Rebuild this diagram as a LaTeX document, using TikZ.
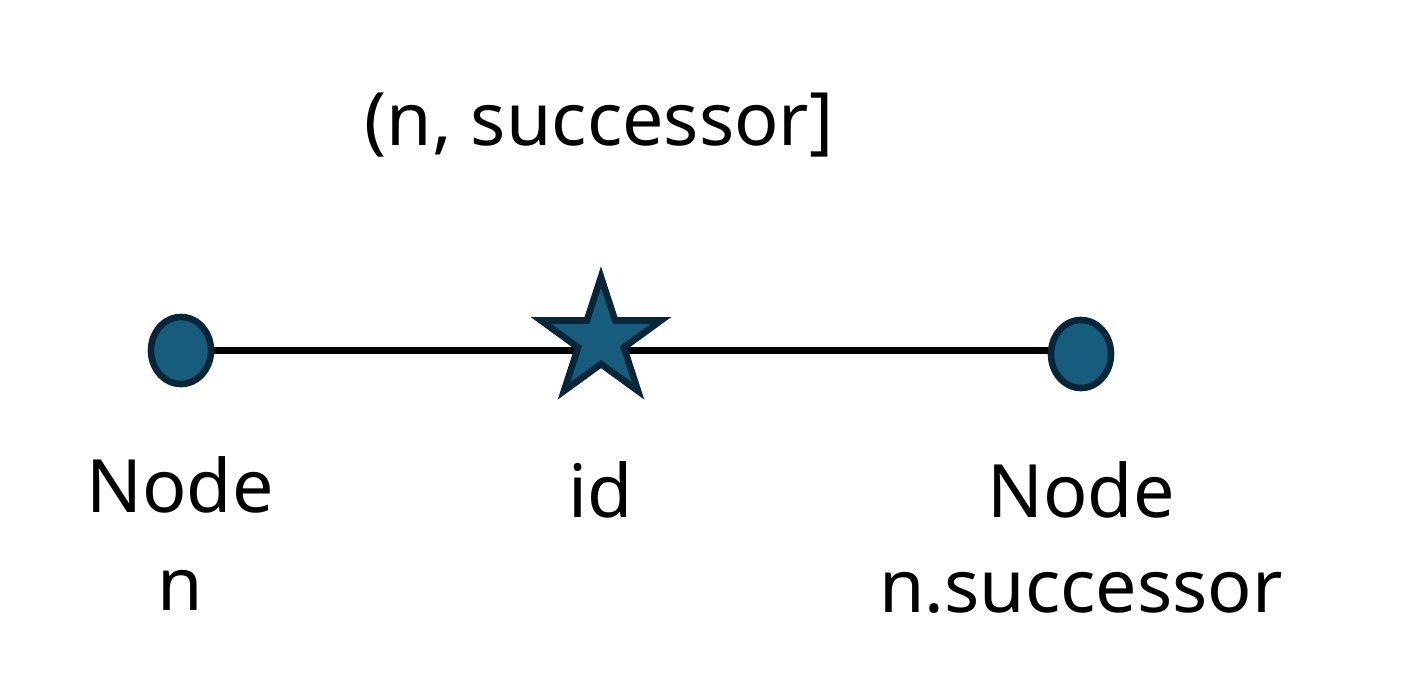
\documentclass[tikz,border=0pt]{standalone}
\usepackage{fontspec}
\setmainfont{Noto Sans}
\usetikzlibrary{shapes.geometric}
\definecolor{dotfill}{HTML}{175C7C}
\definecolor{dotline}{HTML}{07263A}
\begin{document}
\begin{tikzpicture}[x=0.5pt,y=-0.5pt,
  dot/.style={ellipse,draw=dotline,fill=dotfill,line width=3.3pt,inner sep=0pt,minimum width=30pt,minimum height=33.5pt},
  idstar/.style={star,star points=5,star point ratio=2.618,draw=dotline,fill=dotfill,line width=3.3pt,inner sep=0pt,minimum size=63pt},
  lbl/.style={anchor=base,inner sep=0pt,font=\fontsize{36.8}{40}\selectfont},
  link/.style={line width=3.5pt,black}]
\useasboundingbox[fill=white] (0,0) rectangle (1415,697);
\node[dot] (left) at (181,350.5) {};
\node[dot,minimum height=34pt] (right) at (1081,354) {};
\draw[link] (left.east) -- (right.west |- left.east);
\node[idstar] (id) at (601,340) {};
\node[lbl] (title) at (599,145) {(n, successor]};
\node[lbl] (lnode) at (180,512) {Node};
\node[lbl] (ln) at (180,610) {n};
\node[lbl] (idl) at (601,517) {id};
\node[lbl] (rnode) at (1081,517) {Node};
\node[lbl] (rn) at (1081,612) {n.successor};
\end{tikzpicture}
\end{document}
